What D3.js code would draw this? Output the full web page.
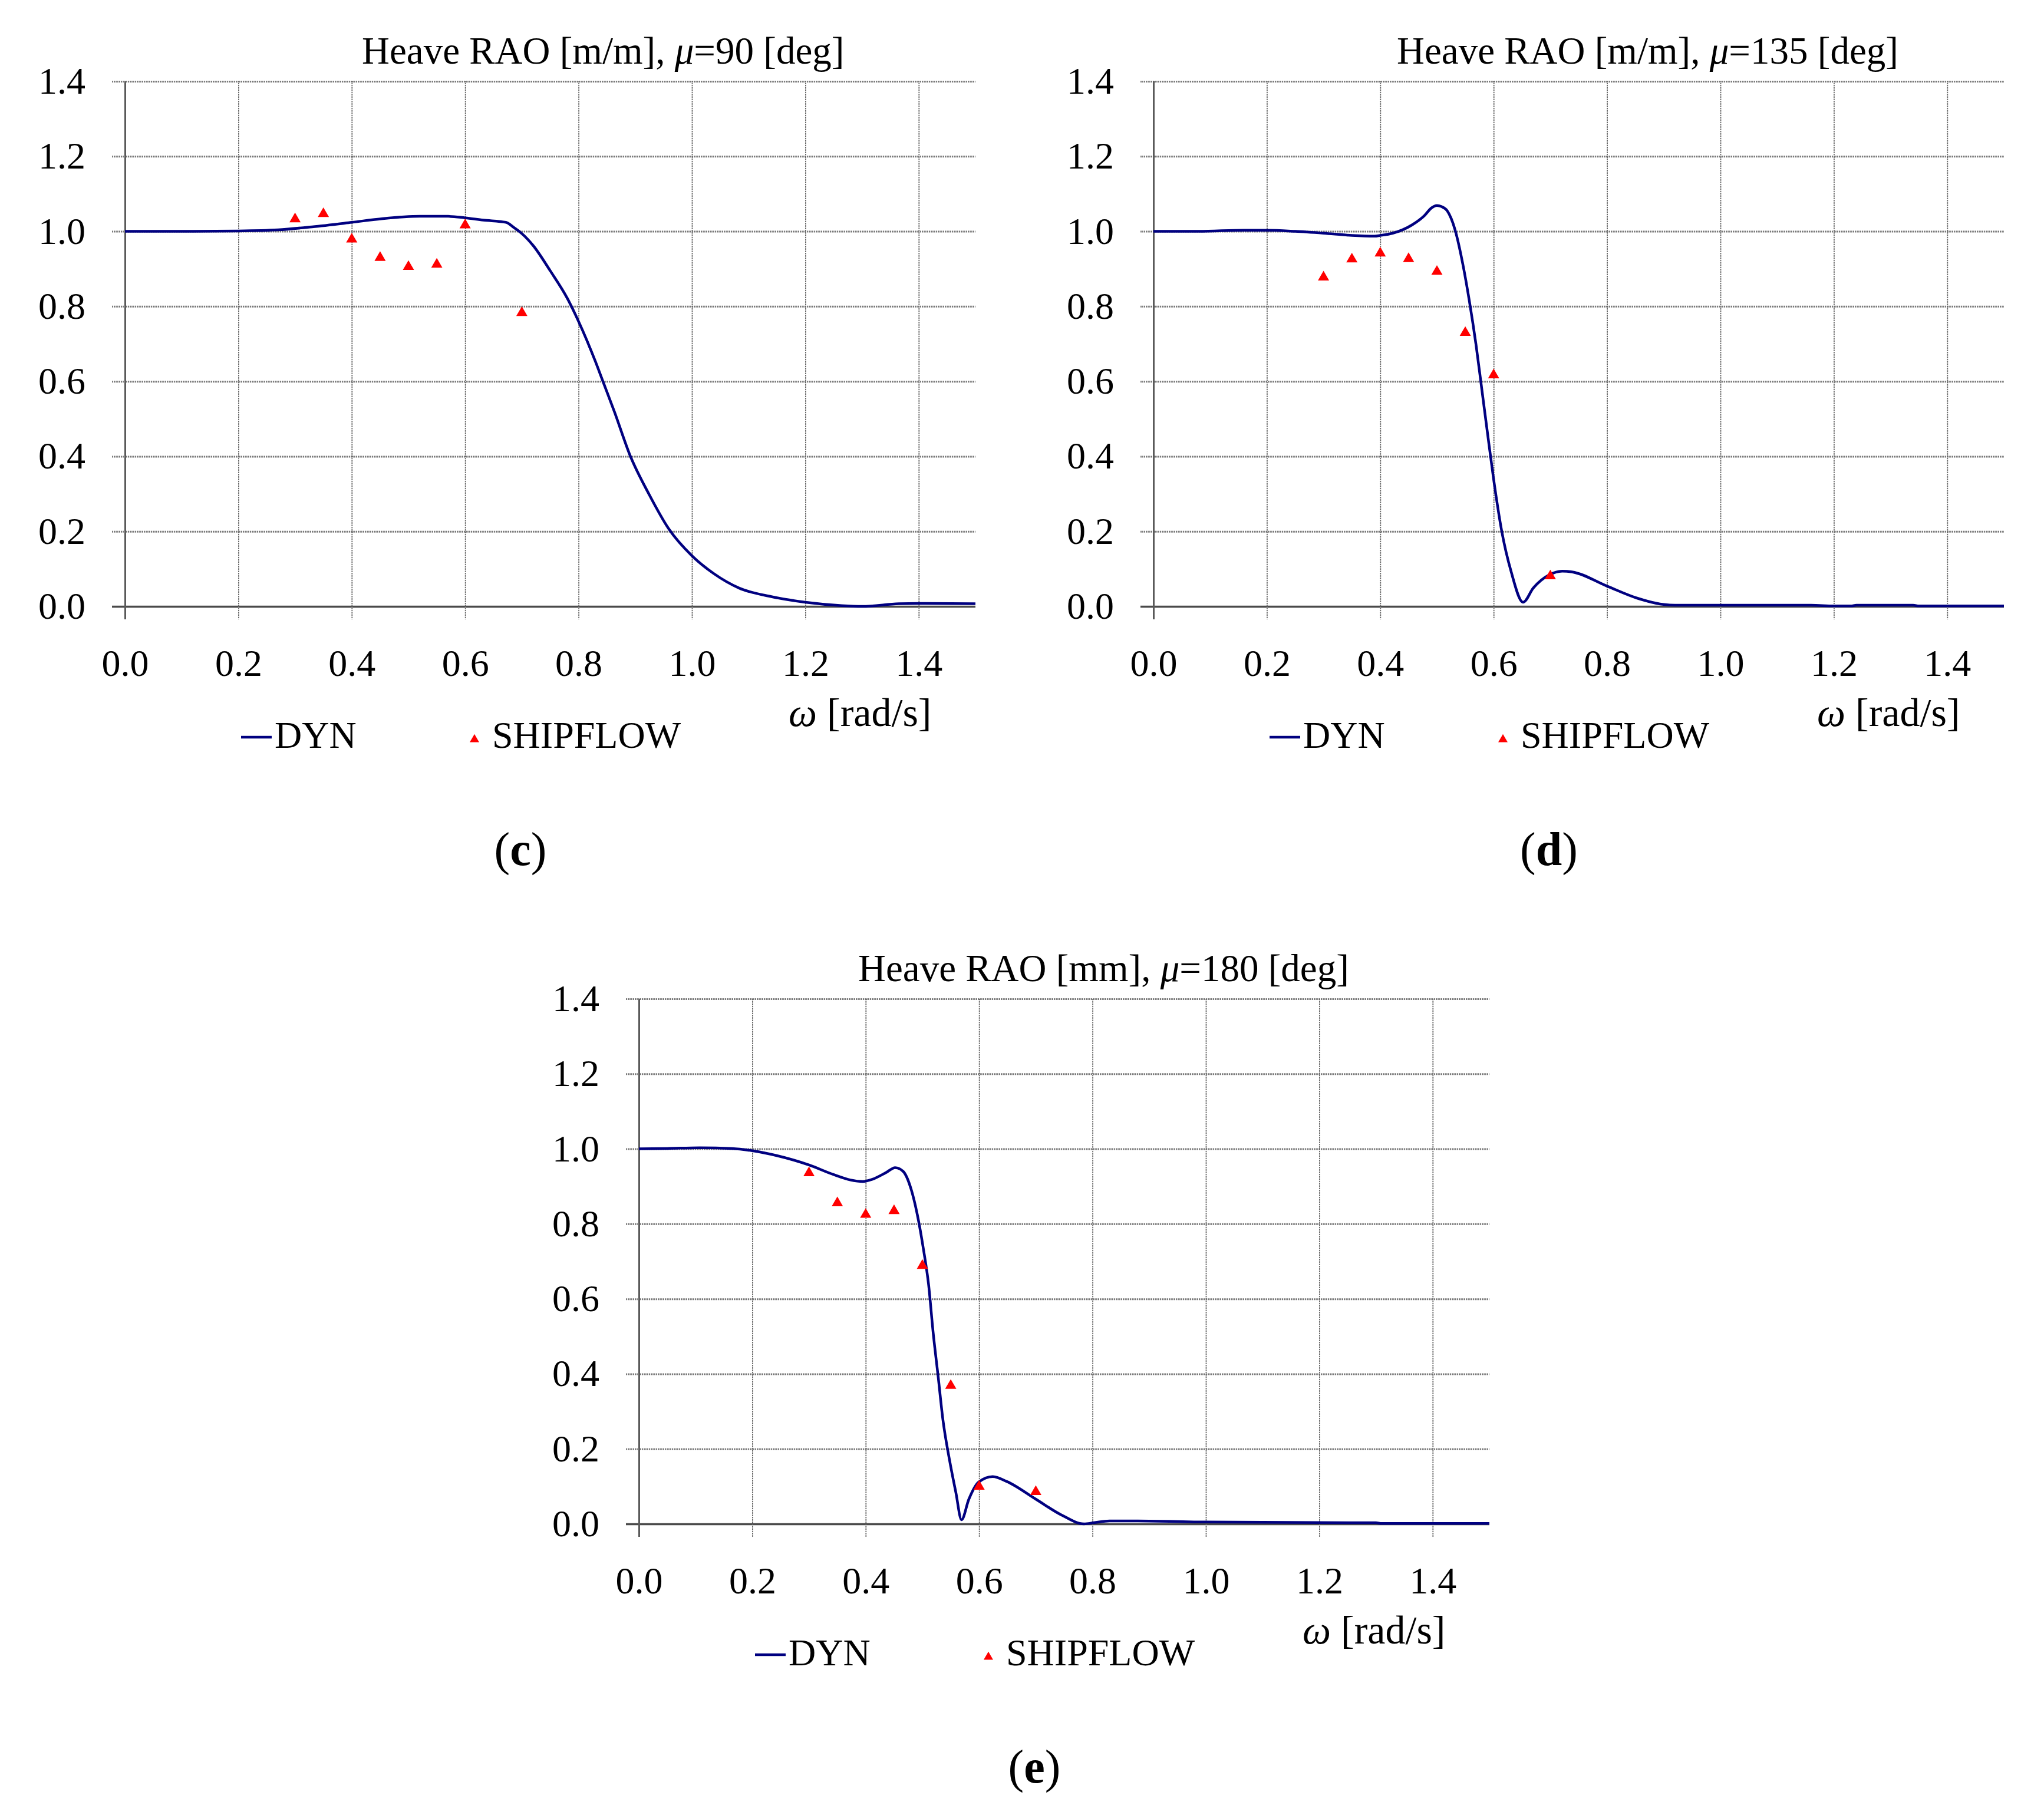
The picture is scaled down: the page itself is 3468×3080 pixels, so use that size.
<!DOCTYPE html>
<html>
<head>
<meta charset="utf-8">
<title>Heave RAO</title>
<script src="https://cdn.jsdelivr.net/npm/d3@7"></script>
<style>
  body { margin: 0; background: #fff; }
  svg { display: block; background: #fff; font-family: "Liberation Serif", "Times New Roman", serif; }
</style>
</head>
<body>
<div id="chart"></div>
<script>
(function(){
  'use strict';

  // axis ticks
  var xTicks = [0, 0.2, 0.4, 0.6, 0.8, 1.0, 1.2, 1.4];
  var yTicks = [0, 0.2, 0.4, 0.6, 0.8, 1.0, 1.2, 1.4];
  var xDomain = [0, 1.5];
  var yDomain = [0, 1.4];

  var seriesNames = ['DYN', 'SHIPFLOW'];
  var panelLetters = ['c', 'd', 'e'];
  var titleUnits = ['[m/m]', '[m/m]', '[mm]'];
  var headings = [90, 135, 180];

  // SHIPFLOW points (same frequencies in every panel)
  var shipOmega = [0.30, 0.35, 0.40, 0.45, 0.50, 0.55, 0.60, 0.70];
  var shipC = [1.037, 1.051, 0.983, 0.934, 0.910, 0.916, 1.021, 0.787];
  var shipD = [0.882, 0.930, 0.946, 0.931, 0.897, 0.734, 0.621, 0.085];
  var shipE = [0.940, 0.860, 0.829, 0.839, 0.693, 0.373, 0.104, 0.090];

  // DYN curves, mu = 90
  var dynOmegaC = [0.00, 0.10, 0.20, 0.27, 0.33, 0.40, 0.455, 0.52, 0.57, 0.60, 0.632, 0.672, 0.686,
    0.70, 0.72, 0.75, 0.78, 0.80, 0.83, 0.843, 0.863, 0.891, 0.925, 0.959, 1.00, 1.038, 1.083,
    1.14, 1.20, 1.264, 1.30, 1.365, 1.40, 1.50];
  var dynC = [1.000, 1.000, 1.001, 1.004, 1.012, 1.024, 1.034, 1.040, 1.040, 1.036, 1.030, 1.024, 1.010,
    0.994, 0.962, 0.895, 0.822, 0.760, 0.652, 0.600, 0.520, 0.402, 0.297, 0.207, 0.135, 0.088, 0.049,
    0.026, 0.011, 0.002, 0.000, 0.007, 0.008, 0.007];

  // mu = 135
  var dynOmegaD = [0.00, 0.08, 0.16, 0.20, 0.25, 0.30, 0.35, 0.39, 0.40, 0.422, 0.456, 0.478, 0.49,
    0.50, 0.508, 0.518, 0.532, 0.546, 0.557, 0.569, 0.580, 0.591, 0.600, 0.614, 0.631, 0.652,
    0.670, 0.698, 0.721, 0.738, 0.80, 0.853, 0.90, 0.92, 1.00, 1.16, 1.20, 1.23, 1.24, 1.34, 1.35, 1.50];
  var dynD = [1.000, 1.000, 1.003, 1.003, 1.000, 0.995, 0.989, 0.987, 0.989, 0.995, 1.017, 1.042, 1.062,
    1.069, 1.066, 1.055, 1.004, 0.910, 0.816, 0.697, 0.569, 0.441, 0.339, 0.203, 0.092, 0.011,
    0.049, 0.084, 0.094, 0.092, 0.054, 0.022, 0.005, 0.003, 0.003, 0.003, 0.001, 0.001, 0.003, 0.003, 0.001, 0.001];

  // mu = 180
  var dynOmegaE = [0.00, 0.05, 0.107, 0.164, 0.20, 0.243, 0.30, 0.344, 0.373, 0.395, 0.412, 0.435,
    0.452, 0.466, 0.480, 0.491, 0.502, 0.511, 0.519, 0.528, 0.536, 0.548, 0.559, 0.569, 0.582,
    0.599, 0.624, 0.649, 0.700, 0.745, 0.785, 0.802, 0.83, 0.88, 1.00, 1.30, 1.31, 1.50];
  var dynE = [1.000, 1.001, 1.003, 1.001, 0.995, 0.982, 0.957, 0.931, 0.917, 0.913, 0.919, 0.936,
    0.950, 0.940, 0.893, 0.825, 0.731, 0.637, 0.510, 0.390, 0.280, 0.169, 0.084, 0.011, 0.066,
    0.111, 0.126, 0.113, 0.066, 0.024, 0.000, 0.003, 0.008, 0.008, 0.005, 0.003, 0.001, 0.001];

  //Layout of the three panels (plot area top-left corner and title start)
  var W = 3468, H = 3080;
  var plotW = 1443, plotH = 891, tickOut = 22;
  var lineColor = '#000080', markColor = '#ff0000';

  var panels = [
    {left: 212,  top: 138,  titleX: 402, omega: dynOmegaC, dyn: dynC, ship: shipC},
    {left: 1957, top: 138,  titleX: 413, omega: dynOmegaD, dyn: dynD, ship: shipD},
    {left: 1084, top: 1695, titleX: 372, omega: dynOmegaE, dyn: dynE, ship: shipE}
  ];

  var svg = d3.select('#chart')
    .append('svg')
    .attr('width', W)
    .attr('height', H);

  panels.forEach(function(p, i){
    drawPanel(p, i);
  });

  function drawPanel(p, i){
    var g = svg.append('g')
      .attr('transform', 'translate(' + p.left + ',' + p.top + ')');

    var x = d3.scaleLinear().domain(xDomain).range([0, plotW]),
        y = d3.scaleLinear().domain(yDomain).range([plotH, 0]);

    //Horizontal grid, sticking out to the left as tick marks
    var gh = g.append('g')
      .attr('transform', 'translate(' + (-tickOut) + ',0)')
      .call(d3.axisRight(y).tickValues(yTicks).tickSize(plotW + tickOut).tickFormat(''));
    gh.select('.domain').remove();
    gh.selectAll('.tick line')
      .attr('stroke', '#7a7a7a')
      .attr('stroke-width', 3)
      .attr('stroke-dasharray', '2,1');

    //Vertical grid, sticking out below the zero line
    var gv = g.append('g')
      .call(d3.axisBottom(x).tickValues(xTicks).tickSize(plotH + tickOut).tickFormat(''));
    gv.select('.domain').remove();
    gv.selectAll('.tick line')
      .attr('stroke', '#666')
      .attr('stroke-width', 1.8)
      .attr('stroke-dasharray', '2,1');

    //Axis lines are solid and darker
    gv.selectAll('.tick').filter(function(d){ return d === 0; }).select('line')
      .attr('stroke', '#5a5a5a').attr('stroke-width', 3).attr('stroke-dasharray', null);
    gh.selectAll('.tick').filter(function(d){ return d === 0; }).select('line')
      .attr('stroke', '#4a4a4a').attr('stroke-width', 3.5).attr('stroke-dasharray', null);

    //Tick labels
    var fmt = d3.format('.1f');
    var ly = g.append('g')
      .call(d3.axisLeft(y).tickValues(yTicks).tickSize(0).tickPadding(67).tickFormat(fmt));
    var lx = g.append('g')
      .attr('transform', 'translate(0,' + plotH + ')')
      .call(d3.axisBottom(x).tickValues(xTicks).tickSize(0).tickPadding(73).tickFormat(fmt));
    [ly, lx].forEach(function(a){
      a.select('.domain').remove();
      a.attr('font-family', null).attr('font-size', 64);
      a.selectAll('text').attr('fill', '#000');
    });

    //DYN curve
    var line = d3.line()
      .x(function(d){ return x(d[0]); })
      .y(function(d){ return y(d[1]); })
      .curve(d3.curveMonotoneX);

    g.append('path')
      .datum(d3.zip(p.omega, p.dyn))
      .attr('fill', 'none')
      .attr('stroke', lineColor)
      .attr('stroke-width', 4.5)
      .attr('stroke-linejoin', 'round')
      .attr('d', line);

    //SHIPFLOW triangles (d3 triangle is centred on its centroid, shift to box centre)
    var triSize = 156, triShift = Math.sqrt(triSize / (Math.sqrt(3) * 3)) / 2;
    g.selectAll('.ship')
      .data(d3.zip(shipOmega, p.ship))
      .enter().append('path')
      .attr('class', 'ship')
      .attr('fill', markColor)
      .attr('d', d3.symbol(d3.symbolTriangle, triSize))
      .attr('transform', function(d){
        return 'translate(' + x(d[0]) + ',' + (y(d[1]) + triShift) + ')';
      });

    //Title
    var t = g.append('text')
      .attr('x', p.titleX)
      .attr('y', -30)
      .attr('font-size', 65);
    t.append('tspan').text('Heave RAO ' + titleUnits[i] + ', ');
    t.append('tspan').attr('font-style', 'italic').text('\u03bc');
    t.append('tspan').text('=' + headings[i] + ' [deg]');

    //Axis title
    var at = g.append('text')
      .attr('x', 1126)
      .attr('y', 1094)
      .attr('font-size', 68);
    at.append('tspan').attr('font-style', 'italic').text('\u03c9');
    at.append('tspan').text(' [rad/s]');

    //Legend
    g.append('line')
      .attr('x1', 197).attr('x2', 249)
      .attr('y1', 1113).attr('y2', 1113)
      .attr('stroke', lineColor)
      .attr('stroke-width', 4.5);
    g.append('text')
      .attr('x', 254).attr('y', 1131)
      .attr('font-size', 64)
      .text(seriesNames[0]);
    g.append('path')
      .attr('fill', markColor)
      .attr('d', d3.symbol(d3.symbolTriangle, 110))
      .attr('transform', 'translate(593,1117)');
    g.append('text')
      .attr('x', 623).attr('y', 1131)
      .attr('font-size', 64)
      .text(seriesNames[1]);

    //Panel letter
    var pl = g.append('text')
      .attr('x', 671)
      .attr('y', 1330)
      .attr('text-anchor', 'middle')
      .attr('font-size', 80);
    pl.append('tspan').text('(');
    pl.append('tspan').attr('font-weight', 'bold').text(panelLetters[i]);
    pl.append('tspan').text(')');
  }
})();
</script>
</body>
</html>
